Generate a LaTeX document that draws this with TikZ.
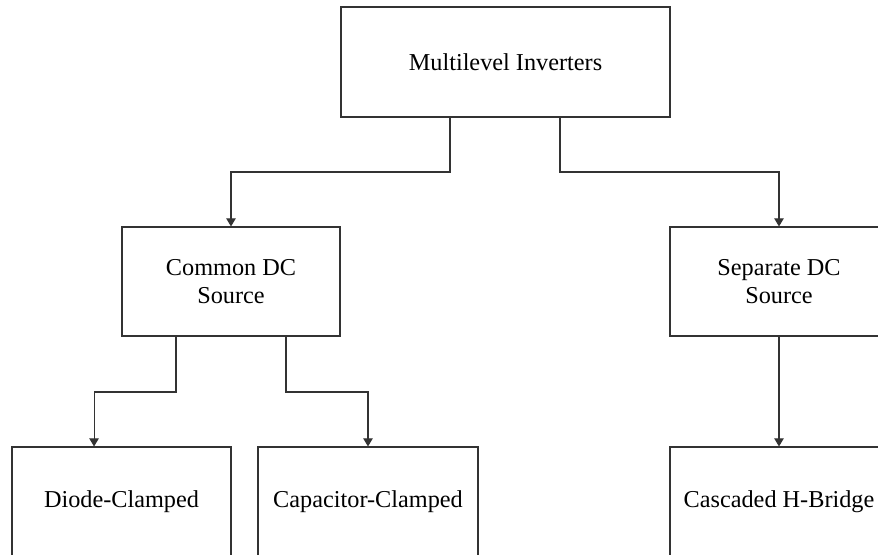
\documentclass[tikz,border=0pt]{standalone}
\usepackage{fontspec}
\setmainfont{Liberation Serif}
\usetikzlibrary{arrows.meta}
\tikzset{
  box/.style={draw=black!80, line width=0.8pt, rectangle, align=center, inner sep=0pt,
              font=\fontsize{18.2}{20.8}\selectfont},
  arr/.style={draw=black!80, line width=0.8pt, -{Triangle[width=7pt,length=6pt]}},
  ln/.style={draw=black!80, line width=0.8pt}
}
\begin{document}
\begin{tikzpicture}[x=0.75pt,y=-0.75pt]
\useasboundingbox (0,0) rectangle (878,555);
\clip (0,0) rectangle (878,555);
\node[box, minimum width=246.75pt, minimum height=82.5pt] (top) at (505.5,62) {Multilevel Inverters};
\node[box, minimum width=163.5pt, minimum height=81.75pt] (common) at (231,281.5) {Common DC\\Source};
\node[box, minimum width=163.5pt, minimum height=81.75pt] (separate) at (779,281.5) {Separate DC\\Source};
\node[box, minimum width=164.25pt, minimum height=82.5pt] (diode) at (121.5,502) {Diode-Clamped};
\node[box, minimum width=165pt, minimum height=82.5pt] (capacitor) at (368,502) {Capacitor-Clamped};
\node[box, minimum width=163.5pt, minimum height=82.5pt] (cascaded) at (779,502) {Cascaded H-Bridge};
\coordinate (j1) at (450,172);
\coordinate (j2) at (560,172);
\coordinate (j3) at (176,392);
\coordinate (j4) at (286,392);
\draw[arr] (top.south -| j1) -- (j1) -| (common.north);
\draw[arr] (top.south -| j2) -- (j2) -| (separate.north);
\draw[arr] (common.south -| j3) -- (j3) -| ([xshift=-20.6pt]diode.north);
\draw[arr] (common.south -| j4) -- (j4) -| (capacitor.north);
\draw[arr] (separate.south) -- (cascaded.north);
\end{tikzpicture}
\end{document}
